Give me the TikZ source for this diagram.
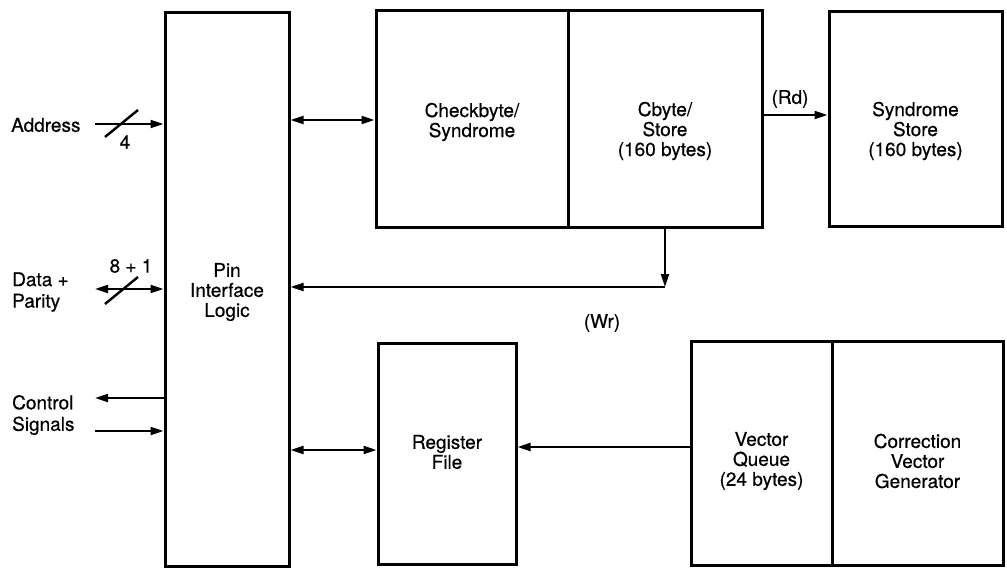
\documentclass[tikz,border=0pt]{standalone}
\usepackage{fontspec}
\setmainfont[FakeBold=0.5]{TeX Gyre Heros}
\usetikzlibrary{arrows.meta}
\begin{document}
\begin{tikzpicture}[x=1pt,y=-1pt,
  box/.style={draw,line width=3pt,inner sep=0pt},
  txt/.style={align=center,font=\fontsize{19}{20}\selectfont,inner sep=0pt},
  ltxt/.style={align=left,anchor=west,font=\fontsize{19}{21.5}\selectfont,inner sep=0pt},
  conn/.style={line width=2.1pt},
  arr/.style={conn,-{Triangle[length=13pt,width=8pt]}},
  darr/.style={conn,{Triangle[length=13pt,width=8pt]}-{Triangle[length=13pt,width=8pt]}},
  slash/.style={line width=2.4pt}]
\useasboundingbox (0,0) rectangle (1007,570);
% boxes
\node[box,minimum width=124pt,minimum height=554pt] (pin) at (227,289) {};
\node[box,minimum width=192pt,minimum height=217pt] (chk) at (472,118.5) {};
\node[box,minimum width=194pt,minimum height=217pt] (cbs) at (665,118.5) {};
\node[box,minimum width=173pt,minimum height=215pt] (syn) at (915.5,118.5) {};
\node[box,minimum width=138pt,minimum height=221pt] (reg) at (447,453.5) {};
\node[box,minimum width=141pt,minimum height=224pt] (vq) at (761.5,453) {};
\node[box,minimum width=171pt,minimum height=224pt] (cvg) at (917.5,453) {};
% box texts
\node[txt] (pinT) at (227,292) {Pin\\Interface\\Logic};
\node[txt] (chkT) at (472,122) {Checkbyte/\\Syndrome};
\node[txt] (cbsT) at (665,131) {Cbyte/\\Store\\(160 bytes)};
\node[txt] (synT) at (915.5,131) {Syndrome\\Store\\(160 bytes)};
\node[txt] (regT) at (447,452) {Register\\File};
\node[txt] (vqT) at (761.5,461) {Vector\\Queue\\(24 bytes)};
\node[txt] (cvgT) at (917.5,461) {Correction\\Vector\\Generator};
% left labels
\node[ltxt] (addrT) at (11,125) {Address};
\node[ltxt] (dataT) at (12,292) {Data +\\Parity};
\node[ltxt] (ctlT) at (12,415) {Control\\Signals};
% coordinates
\coordinate (addrL) at (95,124);
\coordinate (dataL) at (95,289);
\coordinate (ctlL) at (95,398);
\coordinate (sigL) at (95,431);
\coordinate (topY) at (0,120);
\coordinate (rdY) at (0,115);
\coordinate (wr) at (665,287);
\coordinate (botY) at (0,450);
\coordinate (vqY) at (0,447);
% left connectors
\draw[arr] (addrL) -- (addrL -| pin.west);
\draw[slash] (105,137) -- (138,110);
\node[txt] (four) at (125,142) {4};
\draw[darr] (dataL) -- (dataL -| pin.west);
\draw[slash] (105,304) -- (138,277);
\node[txt] (eight) at (131,266) {8 + 1};
\draw[arr] (ctlL -| pin.west) -- (ctlL);
\draw[arr] (sigL) -- (sigL -| pin.west);
% internal connectors
\draw[darr] (pin.east |- topY) -- (chk.west |- topY);
\draw[arr] (cbs.east |- rdY) -- (syn.west |- rdY);
\node[txt] (rdT) at (790,99) {(Rd)};
\draw[arr] (cbs.south) -- (wr);
\draw[arr] (wr) -- (wr -| pin.east);
\node[txt] (wrT) at (602,323) {(Wr)};
\draw[darr] (pin.east |- botY) -- (reg.west |- botY);
\draw[arr] (vq.west |- vqY) -- (reg.east |- vqY);
\end{tikzpicture}
\end{document}
